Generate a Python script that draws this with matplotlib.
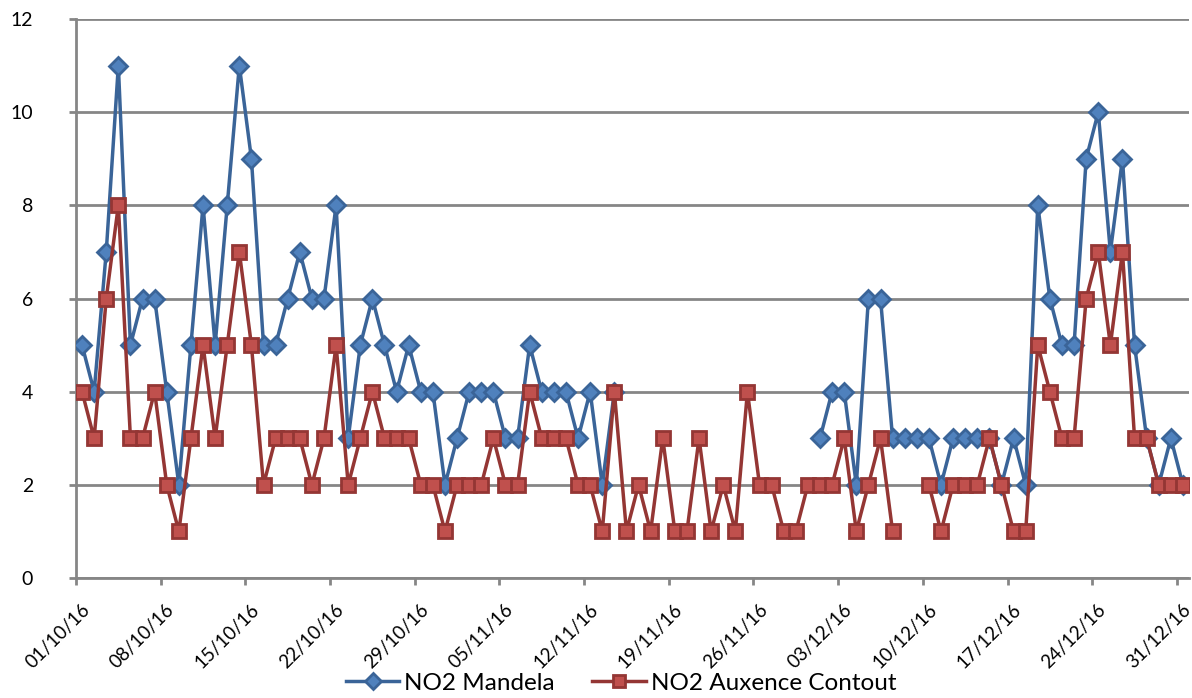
import numpy as np
import matplotlib
matplotlib.use("Agg")
import matplotlib.pyplot as plt
import matplotlib.transforms as mtransforms

nan = np.nan
# Daily values 01/10/16 .. 31/12/16 (92 days)
mandela = [5, 4, 7, 11, 5, 6, 6, 4, 2, 5, 8, 5, 8, 11, 9, 5, 5, 6, 7, 6, 6, 8,
           3, 5, 6, 5, 4, 5, 4, 4, 2, 3, 4, 4, 4, 3, 3, 5, 4, 4, 4, 3, 4, 2, 4,
           nan, nan, nan, nan, nan, nan, nan, nan, nan, nan, nan, nan, nan, nan, nan, nan,
           3, 4, 4, 2, 6, 6, 3, 3, 3, 3, 2, 3, 3, 3, 3, 2, 3, 2, 8, 6, 5, 5, 9, 10, 7, 9,
           5, 3, 2, 3, 2]
auxence = [4, 3, 6, 8, 3, 3, 4, 2, 1, 3, 5, 3, 5, 7, 5, 2, 3, 3, 3, 2, 3, 5,
           2, 3, 4, 3, 3, 3, 2, 2, 1, 2, 2, 2, 3, 2, 2, 4, 3, 3, 3, 2, 2, 1, 4,
           1, 2, 1, 3, 1, 1, 3, 1, 2, 1, 4, 2, 2, 1, 1, 2, 2, 2, 3, 1, 2, 3, 1,
           nan, nan,
           2, 1, 2, 2, 2, 3, 2, 1, 1, 5, 4, 3, 3, 6, 7, 5, 7, 3, 3, 2, 2, 2]
tick_labels = ["01/10/16", "08/10/16", "15/10/16", "22/10/16", "29/10/16",
               "05/11/16", "12/11/16", "19/11/16", "26/11/16", "03/12/16",
               "10/12/16", "17/12/16", "24/12/16", "31/12/16"]
series_names = ["NO2 Mandela", "NO2 Auxence Contout"]

plt.rcParams['font.family'] = ['Lato', 'DejaVu Sans']

fig = plt.figure(figsize=(11.92, 6.98), dpi=100)
ax = fig.add_axes([76/1192, 1-578/698, (1189-76)/1192, (578-19)/698])

x = np.arange(len(mandela))
blue_line = '#3A6498'
blue_face = '#4F81BD'
red_line = '#943634'
red_face = '#C0504D'

ax.plot(x, mandela, color=blue_line, lw=2.5, marker='D', ms=9,
        mfc=blue_face, mec=blue_line, mew=2, label=series_names[0], zorder=3)
ax.plot(x, auxence, color=red_line, lw=2.5, marker='s', ms=10,
        mfc=red_face, mec=red_line, mew=2, label=series_names[1], zorder=4)

ax.set_xlim(-0.5, len(mandela) - 0.5)
ax.set_ylim(0, 12)
ax.set_yticks(np.arange(0, 13, 2))
tick_pos = -0.5 + 7*np.arange(len(tick_labels))
ax.set_xticks(tick_pos)
ax.set_xticklabels([])
shift = mtransforms.ScaledTranslation(5/100, -23/100, fig.dpi_scale_trans)
for tp, lab in zip(tick_pos, tick_labels):
    ax.text(tp, 0, lab, transform=ax.get_xaxis_transform() + shift,
            rotation=45, ha='right', va='top', rotation_mode='anchor',
            fontsize=13.5, clip_on=False)
for lbl in ax.get_yticklabels():
    lbl.set_fontsize(14)

grid_c = '#868686'
ax.yaxis.grid(True, color=grid_c, lw=2, zorder=0)
ax.set_axisbelow(True)
for s in ['top', 'right']:
    ax.spines[s].set_visible(False)
for s in ['left', 'bottom']:
    ax.spines[s].set_color(grid_c)
    ax.spines[s].set_linewidth(2)
ax.tick_params(axis='both', direction='out', length=5, width=2, color=grid_c,
               labelcolor='black')
ax.tick_params(axis='y', pad=26)

fig.legend(loc='center', bbox_to_anchor=(621/1192, 1-683/698), ncol=2, frameon=False,
           fontsize=17.5, handlelength=2.2, columnspacing=1.55, handletextpad=0.2,
           markerscale=0.85)

fig.savefig('out.png', dpi=100)
